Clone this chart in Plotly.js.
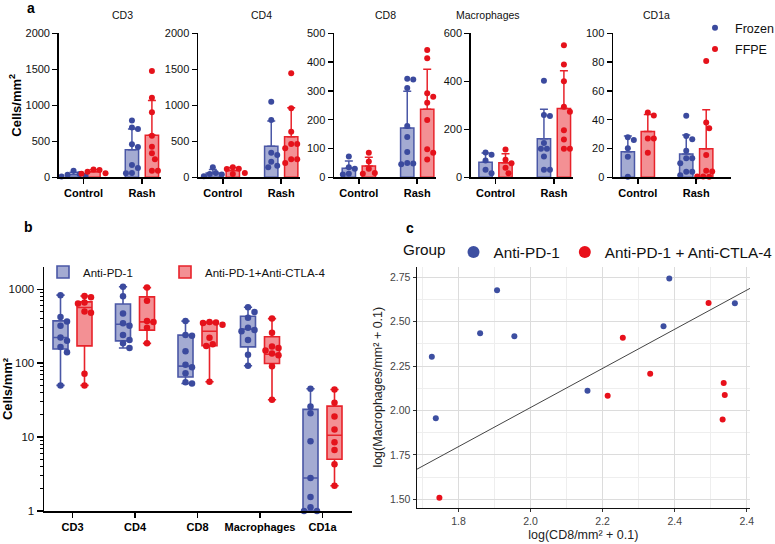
<!DOCTYPE html>
<html>
<head>
<meta charset="utf-8">
<script src="https://cdn.plot.ly/plotly-3.0.1.min.js"></script>
<style>
  html, body { margin: 0; padding: 0; background: #fff; }
  #chart { width: 775px; height: 544px; }
</style>
</head>
<body>
<div id="chart"></div>
<script>
// ---- panel a: Frozen vs FFPE, mean + SD, [Control, Rash] ----
const groupsA = ["Control", "Rash"];
const cd3Frozen = [[90, 45, 35, 20, 10], [790, 690, 670, 460, 420, 170, 130, 60, 55]];
const cd3Ffpe = [[110, 100, 78, 55, 50], [1476, 1106, 902, 578, 425, 333, 250, 92, 92]];
const cd4Frozen = [[140, 60, 45, 40, 15], [1050, 796, 342, 310, 217, 161, 139]];
const cd4Ffpe = [[140, 120, 115, 60, 45], [1444, 958, 633, 463, 463, 403, 250, 250, 200]];
const cd8Frozen = [[72, 35, 30, 12, 10], [342, 340, 310, 178, 140, 88, 50, 48, 45]];
const cd8Ffpe = [[85, 55, 30, 15, 12], [442, 413, 292, 280, 259, 199, 97, 85, 62]];
const macFrozen = [[103, 94, 70, 31, 17], [402, 260, 255, 143, 119, 119, 87, 31, 31]];
const macFfpe = [[116, 73, 59, 40, 17], [550, 470, 400, 294, 273, 196, 157, 119, 119]];
const cd1aFrozen = [[27.8, 25.9, 20.1, 14.3, 0.4], [42.8, 28.7, 26.4, 18.5, 13.2, 13.2, 9.7, 3.9, 3.9, 1.5]];
const cd1aFfpe = [[45, 43, 27, 27, 17], [80.7, 38, 34, 15.5, 4.6, 4, 0.5, 0.5, 0.3]];

// ---- panel b: box plots on log scale ----
const cellTypes = ["CD3", "CD4", "CD8", "Macrophages", "CD1a"];
const pd1Values = [
  [830, 420, 365, 320, 222, 200, 165, 140, 50],
  [1080, 800, 470, 345, 320, 240, 205, 185, 160],
  [370, 240, 235, 145, 95, 88, 73, 55, 53],
  [570, 490, 410, 300, 280, 270, 205, 130, 92],
  [45, 26, 21, 8.8, 2.8, 1.55, 1.12, 1.0, 1.0]
];
const pd1Q1 = [155, 200, 65, 166, 1.0];
const pd1Median = [222, 336, 91, 288, 2.8];
const pd1Q3 = [373, 630, 239, 431, 23.7];
const comboValues = [
  [810, 780, 660, 640, 500, 480, 72, 50],
  [1050, 700, 370, 360, 300, 185],
  [360, 355, 350, 330, 220, 180, 170, 56],
  [400, 258, 168, 160, 148, 135, 128, 91, 32],
  [44, 29, 19, 12.7, 8.5, 6.7, 4.3, 2.2]
];
const comboQ1 = [171, 279, 172, 99, 5.0];
const comboMedian = [566, 361, 270, 132, 10.6];
const comboQ3 = [674, 787, 350, 227, 26.2];
const bTickVals = [1, 10, 100, 1000];

// ---- panel c: log CD8 vs log macrophages ----
const pd1LogCD8 = [1.726, 1.860, 1.907, 1.955, 2.385, 2.369, 2.567, 2.158, 1.737];
const pd1LogMac = [2.303, 2.435, 2.677, 2.418, 2.744, 2.474, 2.604, 2.111, 1.956];
const comboLogCD8 = [2.256, 2.494, 2.332, 2.214, 2.536, 2.539, 2.533, 1.747];
const comboLogMac = [2.410, 2.605, 2.207, 2.083, 2.155, 2.087, 1.950, 1.509];
const fitLineX = [1.684, 2.609];
const fitLineY = [1.669, 2.688];
const cXTickVals = [1.8, 2.0, 2.2, 2.4, 2.6];
const cXTickText = ["1.8", "2.0", "2.2", "2.4", "2.4"];
const cYTickVals = [1.5, 1.75, 2.0, 2.25, 2.5, 2.75];

const W = 775, H = 544;
const FONT = "Arial, 'Liberation Sans', sans-serif";
const BLUE = "#3b4a9e", RED = "#e5121b";
const BLUE_LINE = "#4a57a6", RED_LINE = "#e8222a";
const BLUE_FILL = "rgba(74,87,166,0.5)", RED_FILL = "rgba(232,34,42,0.5)";

const mean = a => a.reduce((s, v) => s + v, 0) / a.length;
const sd = a => {
  const m = mean(a);
  return Math.sqrt(a.reduce((s, v) => s + (v - m) * (v - m), 0) / (a.length - 1));
};

// spread points sideways so they don't overlap (beeswarm)
function swarm(vals, center, toPx, pxPerUnit, diam) {
  const order = vals.map((v, i) => i).sort((a, b) => vals[b] - vals[a]);
  const placed = [];
  const xs = [];
  order.forEach(i => {
    const py = toPx(vals[i]);
    let dx = 0;
    for (let k = 0; k < 40; k++) {
      const c = k === 0 ? 0 : (k % 2 ? 1 : -1) * Math.ceil(k / 2) * diam * 0.5;
      if (placed.every(p => (p.x - c) ** 2 + (p.y - py) ** 2 >= diam * diam)) { dx = c; break; }
    }
    placed.push({ x: dx, y: py });
    xs[i] = center + dx / pxPerUnit;
  });
  return xs;
}

const px = v => v / W;
const py = v => 1 - v / H;

const traces = [];
const annotations = [];
const layout = {
  width: W, height: H,
  margin: { l: 0, r: 0, t: 0, b: 0, autoexpand: false },
  paper_bgcolor: "#fff", plot_bgcolor: "#fff",
  font: { family: FONT, color: "#111" },
  barmode: "overlay",
  boxmode: "overlay",
  showlegend: true,
  annotations: annotations
};

// ---- panel a ----
const panelA = [
  { name: "CD3", max: 2000, step: 500, frozen: cd3Frozen, ffpe: cd3Ffpe, left: 59, hi: 1.32 },
  { name: "CD4", max: 2000, step: 500, frozen: cd4Frozen, ffpe: cd4Ffpe, left: 198.3, hi: 1.32 },
  { name: "CD8", max: 500, step: 100, frozen: cd8Frozen, ffpe: cd8Ffpe, left: 334.3, hi: 1.32 },
  { name: "Macrophages", max: 600, step: 200, frozen: macFrozen, ffpe: macFfpe, left: 471, hi: 1.32 },
  { name: "CD1a", max: 100, step: 20, frozen: cd1aFrozen, ffpe: cd1aFfpe, left: 613.3, hi: 1.6 }
];
const A_LO = -0.42, A_UNIT = 58.4, A_TOP = 33.3, A_BOT = 177.3, A_OFF = 0.171;

panelA.forEach((p, k) => {
  const id = k === 0 ? "" : String(k + 1);
  const right = p.left + (p.hi - A_LO) * A_UNIT;
  const yPx = v => v * (A_BOT - A_TOP) / p.max;
  [
    { name: "Frozen", data: p.frozen, off: -A_OFF, dot: BLUE, line: BLUE_LINE, fill: BLUE_FILL },
    { name: "FFPE", data: p.ffpe, off: A_OFF, dot: RED, line: RED_LINE, fill: RED_FILL }
  ].forEach(g => {
    traces.push({
      type: "bar", xaxis: "x" + id, yaxis: "y" + id,
      x: groupsA.map((c, i) => i + g.off),
      y: g.data.map(mean),
      width: 0.228,
      marker: { color: g.fill, line: { color: g.line, width: 1.5 } },
      error_y: { type: "data", symmetric: false, array: g.data.map(sd), arrayminus: g.data.map(() => 0),
                 color: g.line, thickness: 1.5, width: 4 },
      showlegend: false, hoverinfo: "skip"
    });
    const xs = [], ys = [];
    g.data.forEach((vals, i) => {
      swarm(vals, i + g.off, yPx, A_UNIT, 6).forEach((x, j) => { xs.push(x); ys.push(vals[j]); });
    });
    traces.push({
      type: "scatter", mode: "markers", xaxis: "x" + id, yaxis: "y" + id,
      x: xs, y: ys, name: g.name, legendgroup: g.name, legend: "legend",
      showlegend: k === 0, cliponaxis: false,
      marker: { color: g.dot, size: 6 }
    });
  });
  layout["xaxis" + id] = {
    domain: [px(p.left), px(right)], range: [A_LO, p.hi], anchor: "y" + id,
    tickvals: [0, 1], ticktext: groupsA,
    showline: true, linecolor: "#000", linewidth: 1.8, ticks: "outside", ticklen: 5, tickwidth: 1.5,
    tickcolor: "#000", showgrid: false, zeroline: false,
    tickfont: { size: 11, weight: "bold", color: "#000" }
  };
  layout["yaxis" + id] = {
    domain: [py(A_BOT), py(A_TOP)], range: [0, p.max], dtick: p.step, anchor: "x" + id,
    showline: true, linecolor: "#000", linewidth: 1.8, ticks: "outside", ticklen: 5, tickwidth: 1.5,
    tickcolor: "#000", showgrid: false, zeroline: false,
    tickfont: { size: 11, color: "#111" }
  };
  annotations.push({
    xref: "paper", yref: "paper", x: px((p.left + right) / 2), y: py(15), yanchor: "middle",
    text: p.name, showarrow: false, font: { size: 10.5, color: "#111" }
  });
});
layout.yaxis.title = { text: "<b>Cells/mm<sup>2</sup></b>", font: { size: 13, color: "#000" }, standoff: 1 };

// ---- panel b ----
const B_LEFT = 44, B_RIGHT = 352, B_TOP = 267, B_BOT = 511, B_UNIT = 62.5, B_OFF = 0.192;
const B_LO = (B_LEFT - 72.5) / B_UNIT, B_HI = (B_RIGHT - 72.5) / B_UNIT;
const bYPx = v => Math.log10(v) * 74;
[
  { name: "Anti-PD-1", data: pd1Values, q1: pd1Q1, med: pd1Median, q3: pd1Q3, off: -B_OFF,
    dot: BLUE, line: BLUE_LINE, fill: BLUE_FILL, legend: "legend2" },
  { name: "Anti-PD-1+Anti-CTLA-4", data: comboValues, q1: comboQ1, med: comboMedian, q3: comboQ3, off: B_OFF,
    dot: RED, line: RED_LINE, fill: RED_FILL, legend: "legend4" }
].forEach(g => {
  traces.push({
    type: "box", orientation: "v", xaxis: "x6", yaxis: "y6",
    x: cellTypes.map((c, i) => i + g.off),
    q1: g.q1, median: g.med, q3: g.q3,
    lowerfence: g.data.map(a => Math.min(...a)),
    upperfence: g.data.map(a => Math.max(...a)),
    width: 0.24, whiskerwidth: 0.55,
    fillcolor: g.fill, line: { color: g.line, width: 1.6 },
    name: g.name, legend: g.legend, hoverinfo: "skip"
  });
  const xs = [], ys = [];
  g.data.forEach((vals, i) => {
    swarm(vals, i + g.off, bYPx, B_UNIT, 6.5).forEach((x, j) => { xs.push(x); ys.push(vals[j]); });
  });
  traces.push({
    type: "scatter", mode: "markers", xaxis: "x6", yaxis: "y6",
    x: xs, y: ys, showlegend: false, cliponaxis: false,
    marker: { color: g.dot, size: 6.5 }, hoverinfo: "skip"
  });
});
// minor log ticks (2..9 of each decade)
const bMinorTicks = [];
bTickVals.forEach(d => { for (let m = 2; m <= 9; m++) if (d * m < 2000) bMinorTicks.push(d * m); });
layout.xaxis6 = {
  domain: [px(B_LEFT), px(B_RIGHT)], range: [B_LO, B_HI], anchor: "y6",
  tickvals: cellTypes.map((c, i) => i), ticktext: cellTypes,
  showline: true, linecolor: "#000", linewidth: 1.5, ticks: "outside", ticklen: 5, tickwidth: 1.3,
  tickcolor: "#000", showgrid: false, zeroline: false,
  tickfont: { size: 11, weight: "bold", color: "#000" }
};
layout.yaxis6 = {
  domain: [py(B_BOT), py(B_TOP)], type: "log", range: [0, 3.3], anchor: "x6",
  tickvals: bTickVals, ticktext: bTickVals.map(String),
  showline: true, linecolor: "#000", linewidth: 1.5, ticks: "outside", ticklen: 6, tickwidth: 1.3,
  tickcolor: "#000", showgrid: false, zeroline: false,
  minor: { tickmode: "array", tickvals: bMinorTicks, ticks: "outside", ticklen: 3, tickwidth: 1,
           tickcolor: "#000", showgrid: false },
  tickfont: { size: 11.5, color: "#111" },
  title: { text: "<b>Cells/mm²</b>", font: { size: 13, color: "#000" }, standoff: 0 }
};

// ---- panel c ----
traces.push({
  type: "scatter", mode: "lines", xaxis: "x7", yaxis: "y7",
  x: fitLineX, y: fitLineY, line: { color: "#444", width: 1 },
  showlegend: false, hoverinfo: "skip"
});
traces.push({
  type: "scatter", mode: "markers", xaxis: "x7", yaxis: "y7",
  x: pd1LogCD8, y: pd1LogMac, name: "Anti-PD-1", legend: "legend3",
  marker: { color: "#3d4fa1", size: 6 }
});
traces.push({
  type: "scatter", mode: "markers", xaxis: "x7", yaxis: "y7",
  x: comboLogCD8, y: comboLogMac, name: "Anti-PD-1 + Anti-CTLA-4", legend: "legend3",
  marker: { color: "#e8101b", size: 6 }
});
layout.xaxis7 = {
  domain: [px(416.7), px(750)], range: [1.684, 2.609], anchor: "y7",
  tickvals: cXTickVals, ticktext: cXTickText,
  showline: true, linecolor: "#111", linewidth: 1.2, ticks: "outside", ticklen: 3, tickcolor: "#333",
  showgrid: true, gridcolor: "#dcdcdc", zeroline: false,
  minor: { dtick: 0.1, tick0: 1.7, showgrid: true, gridcolor: "#eeeeee" },
  tickfont: { size: 10.5, color: "#444" },
  title: { text: "log(CD8/mm² + 0.1)", font: { size: 12.5, color: "#222" }, standoff: 4 }
};
layout.yaxis7 = {
  domain: [py(507.7), py(266.7)], range: [1.453, 2.81], anchor: "x7",
  tickvals: cYTickVals, tickformat: ".2f",
  showline: true, linecolor: "#111", linewidth: 1.2, ticks: "outside", ticklen: 3, tickcolor: "#333",
  showgrid: true, gridcolor: "#dcdcdc", zeroline: false,
  minor: { dtick: 0.125, tick0: 1.5, showgrid: true, gridcolor: "#eeeeee" },
  tickfont: { size: 10.5, color: "#444" },
  title: { text: "log(Macrophages/mm² + 0.1)", font: { size: 12.5, color: "#222" }, standoff: 4 }
};

// legends
layout.legend = {
  x: px(695), y: py(13), xanchor: "left", yanchor: "top", orientation: "v",
  font: { size: 12.5, color: "#111" }, bgcolor: "rgba(0,0,0,0)", itemwidth: 30, tracegroupgap: 2
};
layout.legend2 = {
  x: px(43), y: py(272), xanchor: "left", yanchor: "middle", orientation: "h",
  font: { size: 11.5, color: "#111" }, bgcolor: "rgba(0,0,0,0)"
};
layout.legend4 = {
  x: px(165), y: py(272), xanchor: "left", yanchor: "middle", orientation: "h",
  font: { size: 11.5, color: "#111" }, bgcolor: "rgba(0,0,0,0)"
};
layout.legend3 = {
  x: px(401), y: py(252), xanchor: "left", yanchor: "middle", orientation: "h",
  title: { text: "Group", font: { size: 15.3, color: "#111" } },
  font: { size: 15.3, color: "#111" }, bgcolor: "rgba(0,0,0,0)", itemsizing: "constant"
};

// panel letters
[["a", 25, 8], ["b", 22, 227], ["c", 410, 228]].forEach(([t, x, y]) => {
  annotations.push({
    xref: "paper", yref: "paper", x: px(x), y: py(y), yanchor: "middle", text: "<b>" + t + "</b>",
    showarrow: false, font: { size: 14, color: "#000" }
  });
});

Plotly.newPlot("chart", traces, layout, { displayModeBar: false, staticPlot: true });
</script>
</body>
</html>
